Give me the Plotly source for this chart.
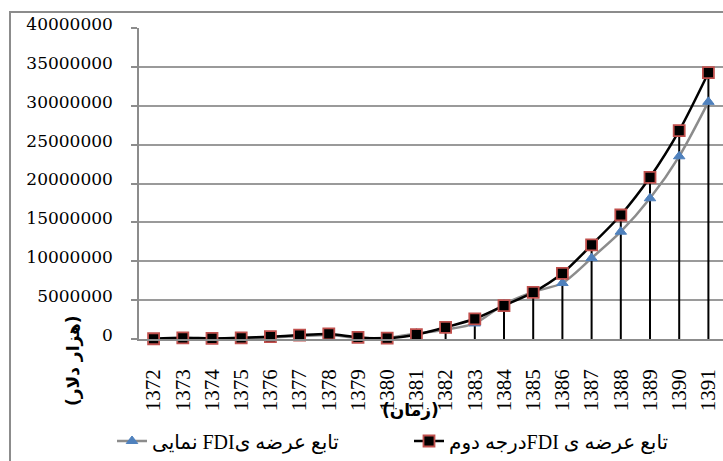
import plotly.graph_objects as go

years = ["1372", "1373", "1374", "1375", "1376", "1377", "1378", "1379", "1380", "1381",
         "1382", "1383", "1384", "1385", "1386", "1387", "1388", "1389", "1390", "1391"]
quad = [30000, 150000, 80000, 150000, 300000, 500000, 650000, 200000, 100000, 550000,
        1500000, 2600000, 4300000, 6000000, 8450000, 12100000, 15950000, 20800000, 26800000, 34250000]
expo = [10000, 80000, 30000, 80000, 200000, 350000, 500000, 150000, 150000, 700000,
        1200000, 2000000, 4450000, 6050000, 7200000, 10400000, 13800000, 18100000, 23500000, 30500000]
y_ticks = [0, 5000000, 10000000, 15000000, 20000000, 25000000, 30000000, 35000000, 40000000]

name_quad = "\u202bتابع عرضه ی FDIدرجه دوم\u202c"
name_expo = "\u202bتابع عرضه یFDI نمایی\u202c"
y_title = "(هزار دلار)"
x_title = "(زمان)"

# drop lines from the higher of the two series to the axis
drop_x, drop_y = [], []
for c, a, b in zip(years, quad, expo):
    drop_x += [c, c, None]
    drop_y += [0, max(a, b), None]

fig = go.Figure()
fig.add_trace(go.Scatter(x=drop_x, y=drop_y, mode="lines", line=dict(color="black", width=2),
                         showlegend=False, hoverinfo="skip", cliponaxis=False))
fig.add_trace(go.Scatter(x=years, y=expo, name=name_expo, mode="lines+markers",
                         line=dict(color="#8c8c8c", width=2.5, shape="spline", smoothing=0.8),
                         marker=dict(symbol="triangle-up", size=10, color="#4f81bd",
                                     line=dict(color="#4f81bd", width=1)),
                         cliponaxis=False))
fig.add_trace(go.Scatter(x=years, y=quad, name=name_quad, mode="lines+markers",
                         line=dict(color="black", width=2.5, shape="spline", smoothing=0.8),
                         marker=dict(symbol="square", size=11, color="black",
                                     line=dict(color="#c0504d", width=1.8)),
                         cliponaxis=False))

W, H = 723, 461
ml, mr, mt, mb = 139, 0, 28, 122
pw, ph = W - ml - mr, H - mt - mb

def px(x):
    return (x - ml) / pw

def py(y):
    return (H - mb - y) / ph

fig.update_layout(
    width=W, height=H,
    margin=dict(l=ml, r=mr, t=mt, b=mb, pad=0, autoexpand=False),
    paper_bgcolor="white", plot_bgcolor="white",
    font=dict(family="Liberation Serif, DejaVu Sans", color="black"),
    showlegend=True,
    legend=dict(orientation="h", x=px(112), y=py(441), xanchor="left", yanchor="middle",
                font=dict(size=20, family="Liberation Serif, DejaVu Sans", color="black"),
                entrywidth=252, entrywidthmode="pixels", bgcolor="rgba(0,0,0,0)",
                traceorder="normal"),
    xaxis=dict(type="category", categoryorder="array", categoryarray=years,
               range=[-0.5, len(years) - 0.5],
               showgrid=False, showline=True, linecolor="#8c8c8c", linewidth=1.5,
               ticks="", tickangle=-90, ticklabelstandoff=20,
               tickfont=dict(family="Liberation Serif", size=21, color="black"),
               zeroline=False, fixedrange=True),
    yaxis=dict(range=[0, 40000000], tickvals=y_ticks, ticktext=[str(v) for v in y_ticks],
               showgrid=True, gridcolor="#9a9a9a", gridwidth=1.5,
               showline=True, linecolor="#8c8c8c", linewidth=1.5,
               ticks="outside", ticklen=6, tickcolor="#8c8c8c", tickwidth=1.5,
               ticklabelstandoff=15, ticklabelshift=-4,
               tickfont=dict(family="DejaVu Serif", size=17, color="black"),
               zeroline=False, fixedrange=True),
    shapes=[dict(type="rect", xref="paper", yref="paper",
                 x0=px(10), y0=py(12), x1=px(740), y1=py(480),
                 line=dict(color="#8c8c8c", width=2), fillcolor="rgba(0,0,0,0)", layer="below")],
    annotations=[
        dict(text="<b>" + y_title + "</b>", xref="paper", yref="paper", x=px(73), y=py(361),
             showarrow=False, textangle=-90, xanchor="center", yanchor="middle",
             font=dict(family="DejaVu Sans", size=17, color="black")),
        dict(text="<b>" + x_title + "</b>", xref="paper", yref="paper", x=px(410), y=py(410),
             showarrow=False, xanchor="center", yanchor="middle",
             font=dict(family="DejaVu Sans", size=17, color="black")),
    ],
)

fig.write_html("out.html", config={"displayModeBar": False},
               post_script="document.body.style.margin='0px';document.body.style.padding='0px';")
